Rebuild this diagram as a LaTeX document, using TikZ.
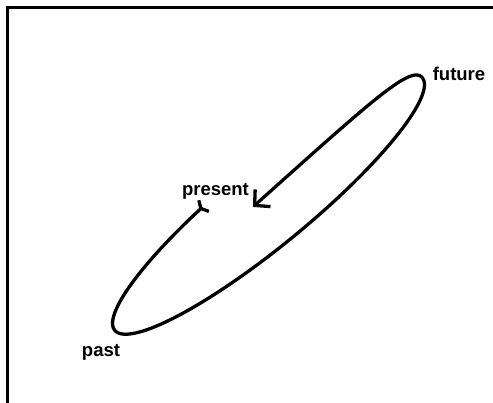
\documentclass[tikz,border=0pt]{standalone}
\usepackage{fontspec}
\setmainfont{Liberation Sans}
\usetikzlibrary{arrows.meta}

\begin{document}
\begin{tikzpicture}[
    x=1pt, y=1pt,
    every node/.style={font=\bfseries\fontsize{18.5}{20}\selectfont, inner sep=0pt},
    frame/.style={line width=3pt},
    loop/.style={line width=3.3pt,
                 {Straight Barb[reversed, length=4pt, width=15pt]}-{Straight Barb[length=11pt, width=23pt]}},
]
\useasboundingbox (0,0) rectangle (493,403);

\draw[frame] (493,395) -| (7,0);

% the time loop: outer ellipse, then spiralling inwards on the way back
\begin{scope}[shift={(268.5,199)}, rotate=39.4]
  \draw[loop] plot[domain=104.4:454, samples=240, smooth]
    ({199*cos(\x)}, {(\x<360 ? 41 : 41*exp(-(\x-360)/56))*sin(\x)});
\end{scope}

\node[anchor=base] (present) at (215.5,207) {present};
\node[anchor=base] (future)  at (459,322) {future};
\node[anchor=base] (past)    at (101,46) {past};
\end{tikzpicture}
\end{document}
